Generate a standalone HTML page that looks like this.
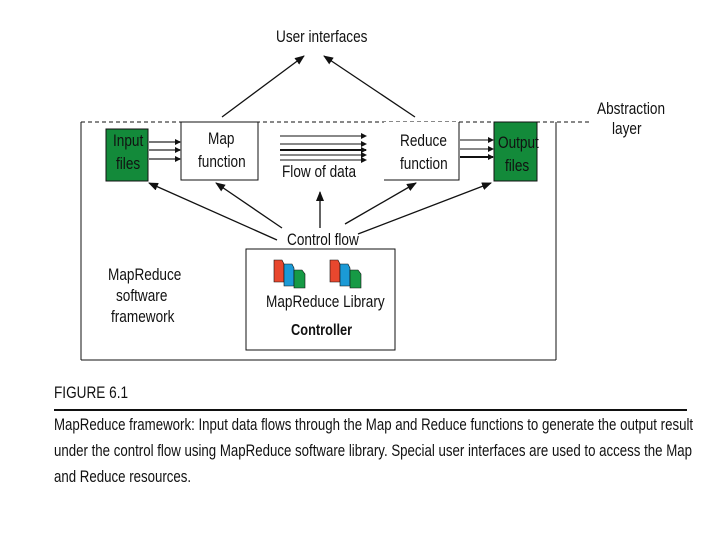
<!DOCTYPE html>
<html><head><style>
body{margin:0;width:720px;height:540px;background:#fff;overflow:hidden;position:relative;font-family:"Liberation Sans",sans-serif;color:#111}
.t{position:absolute;white-space:nowrap;transform-origin:0 0;transform:scaleX(0.8);font-size:17px}
</style></head><body>
<svg width="720" height="540" style="position:absolute;left:0;top:0">
<defs><marker id="a" markerWidth="10" markerHeight="8" refX="9" refY="4" orient="auto" markerUnits="userSpaceOnUse"><path d="M0,0L10,4L0,8z" fill="#111"/></marker>
<marker id="s" markerWidth="6" markerHeight="6" refX="5" refY="3" orient="auto" markerUnits="userSpaceOnUse"><path d="M0,0L6,3L0,6z" fill="#111"/></marker></defs>
<line x1="81" y1="122" x2="590" y2="122" stroke="#111" stroke-dasharray="4,3"/>
<line x1="81" y1="122" x2="81" y2="360" stroke="#111"/>
<line x1="81" y1="360" x2="556" y2="360" stroke="#111"/>
<line x1="556" y1="122" x2="556" y2="360" stroke="#111"/>
<rect x="106" y="129" width="42" height="52" fill="#138a3a" stroke="#111"/>
<rect x="494" y="122" width="43" height="59" fill="#138a3a" stroke="#111"/>
<rect x="181" y="122" width="77" height="58" fill="#fff" stroke="#111"/>
<rect x="384" y="122" width="75" height="58" fill="#fff" stroke="none"/>
<polyline points="384,180 459,180 459,122" fill="none" stroke="#111"/>
<rect x="246" y="249" width="149" height="101" fill="#fff" stroke="#111"/>
<g stroke="#777" stroke-width="2"><line x1="149" y1="142" x2="180" y2="142" marker-end="url(#s)"/><line x1="149" y1="150" x2="180" y2="150" marker-end="url(#s)"/><line x1="149" y1="159" x2="180" y2="159" marker-end="url(#s)"/></g>
<g stroke="#111"><line x1="280" y1="136" x2="366" y2="136" marker-end="url(#s)"/><line x1="280" y1="144" x2="366" y2="144" marker-end="url(#s)"/><line x1="280" y1="150" x2="366" y2="150" stroke-width="2" marker-end="url(#s)"/><line x1="280" y1="155" x2="366" y2="155" marker-end="url(#s)"/><line x1="280" y1="160" x2="366" y2="160" marker-end="url(#s)"/>
<line x1="460" y1="140" x2="493" y2="140" marker-end="url(#s)"/><line x1="460" y1="149" x2="493" y2="149" marker-end="url(#s)"/><line x1="460" y1="157" x2="493" y2="157" stroke-width="2" marker-end="url(#s)"/></g>
<g stroke="#111" stroke-width="1.3">
<line x1="222" y1="117" x2="304" y2="56" marker-end="url(#a)"/>
<line x1="415" y1="117" x2="324" y2="56" marker-end="url(#a)"/>
<line x1="277" y1="240" x2="149" y2="183" marker-end="url(#a)"/>
<line x1="282" y1="228" x2="216" y2="183" marker-end="url(#a)"/>
<line x1="320" y1="228" x2="320" y2="192" marker-end="url(#a)"/>
<line x1="345" y1="224" x2="416" y2="183" marker-end="url(#a)"/>
<line x1="358" y1="234" x2="491" y2="183" marker-end="url(#a)"/>
</g>
<g stroke="#111" stroke-width="0.6">
<path d="M274,260h8l2,4v18h-10z" fill="#e8472e"/><path d="M284,264h8l2,4v18h-10z" fill="#1b9ad6"/><path d="M294,270h8l3,4v14h-11z" fill="#169a45"/>
<path d="M330,260h8l2,4v18h-10z" fill="#e8472e"/><path d="M340,264h8l2,4v18h-10z" fill="#1b9ad6"/><path d="M350,270h8l3,4v14h-11z" fill="#169a45"/>
</g>
<line x1="54" y1="410" x2="687" y2="410" stroke="#111" stroke-width="2"/>
</svg>
<div class="t" style="left:276px;top:27px">User interfaces</div>
<div class="t" style="left:597px;top:99px">Abstraction</div>
<div class="t" style="left:612px;top:119px">layer</div>
<div class="t" style="left:113px;top:131px">Input</div>
<div class="t" style="left:116px;top:154px">files</div>
<div class="t" style="left:208px;top:129px">Map</div>
<div class="t" style="left:198px;top:152px">function</div>
<div class="t" style="left:400px;top:131px">Reduce</div>
<div class="t" style="left:400px;top:154px">function</div>
<div class="t" style="left:498px;top:133px">Output</div>
<div class="t" style="left:505px;top:156px">files</div>
<div class="t" style="left:282px;top:162px">Flow of data</div>
<div class="t" style="left:287px;top:230px">Control flow</div>
<div class="t" style="left:108px;top:265px">MapReduce</div>
<div class="t" style="left:116px;top:286px">software</div>
<div class="t" style="left:111px;top:307px">framework</div>
<div class="t" style="left:266px;top:292px">MapReduce Library</div>
<div class="t" style="left:291px;top:322px;font-weight:bold;font-size:16px">Controller</div>
<div class="t" style="left:54px;top:383px;font-size:17px">FIGURE 6.1</div>
<div class="t" style="left:54px;top:415px;font-size:17px;transform:scaleX(0.78)">MapReduce framework: Input data flows through the Map and Reduce functions to generate the output result</div>
<div class="t" style="left:54px;top:441px;font-size:17px;transform:scaleX(0.78)">under the control flow using MapReduce software library. Special user interfaces are used to access the Map</div>
<div class="t" style="left:54px;top:467px;font-size:17px;transform:scaleX(0.78)">and Reduce resources.</div>
</body></html>
